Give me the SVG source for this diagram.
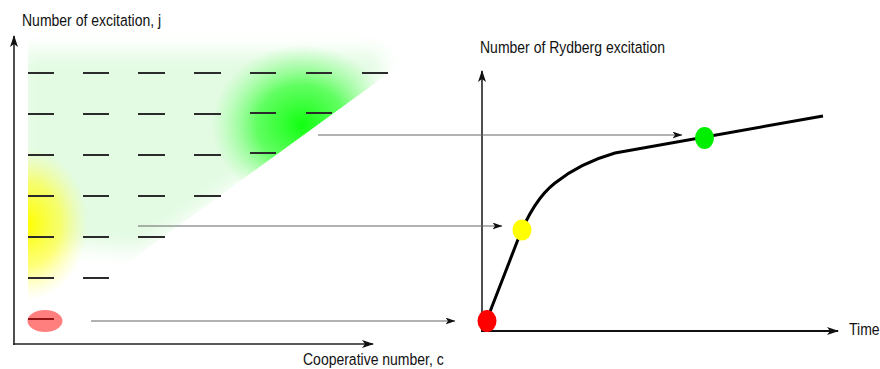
<svg xmlns="http://www.w3.org/2000/svg" width="880" height="369" viewBox="0 0 880 369">
<defs>
<style>
.lbl{font-family:"Liberation Sans",Arial,sans-serif;font-size:14px;fill:#111}
.dash{stroke:#2b2b2b;stroke-width:2;fill:none}
.axis{stroke:#222;stroke-width:1.6;fill:none}
.conn{stroke:#666;stroke-width:1.1;fill:none}
</style>
<marker id="ah" viewBox="0 0 12 8" refX="11" refY="4" markerWidth="12" markerHeight="8" markerUnits="userSpaceOnUse" orient="auto">
<path d="M0,0 L12,4 L0,8 L3,4 Z" fill="#111"/>
</marker>
<marker id="ahs" viewBox="0 0 10 7" refX="9.5" refY="3.5" markerWidth="10" markerHeight="7" markerUnits="userSpaceOnUse" orient="auto">
<path d="M0,0 L10,3.5 L0,7 L2.5,3.5 Z" fill="#111"/>
</marker>
<clipPath id="region">
<polygon points="28,20 420,20 420,50 389,73 90,290 28,290"/>
</clipPath>
<clipPath id="leftcut">
<rect x="28" y="0" width="400" height="369"/>
</clipPath>
<filter id="blur" filterUnits="userSpaceOnUse" x="0" y="0" width="460" height="330">
<feGaussianBlur stdDeviation="10"/>
</filter>
<radialGradient id="gGreen" cx="0.5" cy="0.5" r="0.5">
<stop offset="0" stop-color="#10ff10" stop-opacity="1"/>
<stop offset="0.5" stop-color="#40ff40" stop-opacity="0.8"/>
<stop offset="1" stop-color="#80ff80" stop-opacity="0"/>
</radialGradient>
<radialGradient id="gYellow" cx="0.5" cy="0.5" r="0.5">
<stop offset="0" stop-color="#ffff00" stop-opacity="1"/>
<stop offset="0.55" stop-color="#ffff30" stop-opacity="0.65"/>
<stop offset="1" stop-color="#ffff80" stop-opacity="0"/>
</radialGradient>
</defs>

<rect width="880" height="369" fill="#fff"/>

<g id="shading" clip-path="url(#region)">
<polygon points="20,52 380,52 385,78 140,250 20,240" fill="#e2fbe2" filter="url(#blur)"/>
<ellipse cx="302" cy="125" rx="90" ry="80" fill="url(#gGreen)"/>
</g>
<g id="yellow-glow" clip-path="url(#leftcut)">
<ellipse cx="28" cy="224" rx="60" ry="76" fill="url(#gYellow)"/>
</g>

<g id="levels">
<g class="dash">
<path d="M28,73h26M83,73h26M138,73h27M194,73h27M250,73h26M306,73h26M362,73h26"/>
<path d="M28,114h26M83,114h26M138,114h27M194,114h27M250,113h26M306,113h26"/>
<path d="M28,155h26M83,155h26M138,155h27M194,155h27M250,153h26"/>
<path d="M28,196h26M83,196h26M138,196h27M194,196h27"/>
<path d="M28,237h26M83,237h26M138,237h27"/>
<path d="M28,278h26M83,278h26"/>
<path d="M28,319h26"/>
</g>
</g>

<g id="red-ground">
<ellipse cx="45" cy="321" rx="17.5" ry="11" fill="#ff0000" fill-opacity="0.5"/>
</g>

<g id="left-axes">
<path class="axis" d="M14,345 V36" marker-end="url(#ah)"/>
<path class="axis" d="M13,344 H373" marker-end="url(#ah)"/>
<text class="lbl" transform="translate(22,26) scale(1,1.18)">Number of excitation, j</text>
<text class="lbl" transform="translate(303,365) scale(1,1.18)">Cooperative number, c</text>
</g>

<g id="right-axes">
<path class="axis" d="M482,331 V71" marker-end="url(#ah)"/>
<path d="M481,331 H838" stroke="#111" stroke-width="2.2" fill="none" marker-end="url(#ah)"/>
<text class="lbl" transform="translate(480,53) scale(1,1.18)">Number of Rydberg excitation</text>
<text class="lbl" transform="translate(849,335) scale(1,1.18)">Time</text>
</g>

<g id="connectors">
<path class="conn" d="M318,135 H682" marker-end="url(#ahs)"/>
<path class="conn" d="M138,226 H502" marker-end="url(#ahs)"/>
<path class="conn" d="M91,321 H455" marker-end="url(#ahs)"/>
</g>

<g id="curve">
<path d="M486,322 L517,242 Q533,200 555,183 Q580,163 615,153 L823,116" stroke="#000" stroke-width="3" fill="none" stroke-linejoin="round"/>
</g>

<g id="dot-red"><ellipse cx="487" cy="321" rx="9.5" ry="11" fill="#ff0000"/></g>
<g id="dot-yellow"><ellipse cx="522" cy="230" rx="9.5" ry="10.5" fill="#ffff00"/></g>
<g id="dot-green"><ellipse cx="704.5" cy="138" rx="9.5" ry="11" fill="#00ee00"/></g>
</svg>
